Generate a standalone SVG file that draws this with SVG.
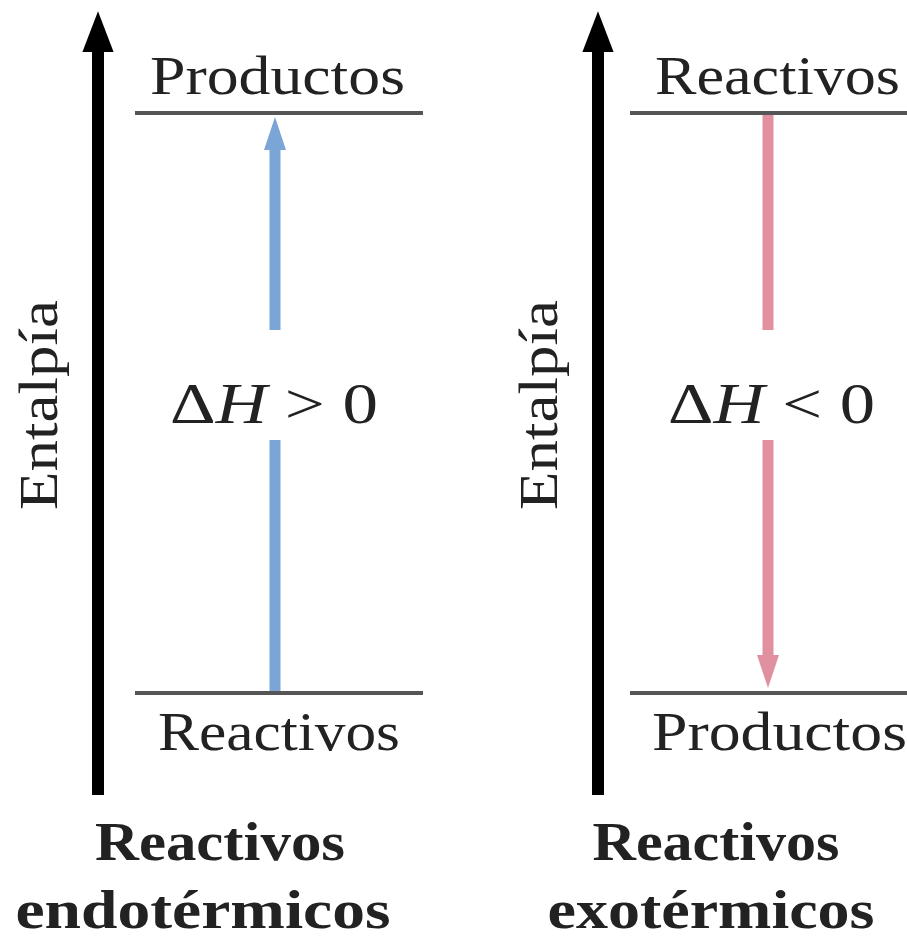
<svg xmlns="http://www.w3.org/2000/svg" width="907" height="940" viewBox="0 0 907 940">
<style>
.t{font-family:"Liberation Serif","Times New Roman",serif;fill:#222;}
.lvl{stroke:#555;stroke-width:4;}
.axis{stroke:#000;stroke-width:12;}
.bl{stroke:#7aa5d6;stroke-width:11;}
.rd{stroke:#e0909f;stroke-width:11;}
</style>
<defs>
<marker id="ah" markerWidth="4" markerHeight="4" refX="1" refY="2" orient="auto" markerUnits="strokeWidth"><path d="M0,0.7 L3.4,2 L0,3.3 Z" fill="#000"/></marker>
<marker id="ab" markerWidth="3" markerHeight="3" refX="1" refY="1.5" orient="auto" markerUnits="strokeWidth"><path d="M0,0.5 L3,1.5 L0,2.5 Z" fill="#7aa5d6"/></marker>
<marker id="ar" markerWidth="3" markerHeight="3" refX="1" refY="1.5" orient="auto" markerUnits="strokeWidth"><path d="M0,0.5 L3,1.5 L0,2.5 Z" fill="#e0909f"/></marker>
</defs>
<g id="connectors">
<line class="axis" x1="98" y1="795" x2="98" y2="40" marker-end="url(#ah)"/>
<line class="axis" x1="598" y1="795" x2="598" y2="40" marker-end="url(#ah)"/>
<line class="bl" x1="275" y1="693" x2="275" y2="440"/>
<line class="bl" x1="275" y1="330" x2="275" y2="139" marker-end="url(#ab)"/>
<line class="rd" x1="768" y1="115" x2="768" y2="330"/>
<line class="rd" x1="768" y1="440" x2="768" y2="666" marker-end="url(#ar)"/>
</g>
<g id="endo-productos">
<line class="lvl" x1="135" y1="113" x2="423" y2="113"/>
<text class="t" x="150" y="94" font-size="54" textLength="255" lengthAdjust="spacingAndGlyphs">Productos</text>
</g>
<g id="endo-reactivos">
<line class="lvl" x1="135" y1="693" x2="423" y2="693"/>
<text class="t" x="158" y="750" font-size="54" textLength="242" lengthAdjust="spacingAndGlyphs">Reactivos</text>
</g>
<g id="endo-dh">
<text class="t" x="170" y="423" font-size="58" textLength="208" lengthAdjust="spacingAndGlyphs">Δ<tspan font-style="italic">H</tspan> &gt; 0</text>
</g>
<g id="exo-reactivos">
<line class="lvl" x1="630" y1="113" x2="907" y2="113"/>
<text class="t" x="655" y="94" font-size="54" textLength="245" lengthAdjust="spacingAndGlyphs">Reactivos</text>
</g>
<g id="exo-productos">
<line class="lvl" x1="630" y1="693" x2="907" y2="693"/>
<text class="t" x="652" y="750" font-size="54" textLength="255" lengthAdjust="spacingAndGlyphs">Productos</text>
</g>
<g id="exo-dh">
<text class="t" x="668" y="423" font-size="58" textLength="207" lengthAdjust="spacingAndGlyphs">Δ<tspan font-style="italic">H</tspan> &lt; 0</text>
</g>
<g id="axis-labels">
<text class="t" transform="translate(57,405) rotate(-90)" text-anchor="middle" font-size="54" textLength="210" lengthAdjust="spacingAndGlyphs">Entalpía</text>
<text class="t" transform="translate(557,405) rotate(-90)" text-anchor="middle" font-size="54" textLength="210" lengthAdjust="spacingAndGlyphs">Entalpía</text>
</g>
<g id="captions">
<text class="t" x="220" y="860" font-size="54" font-weight="bold" text-anchor="middle" textLength="250" lengthAdjust="spacingAndGlyphs">Reactivos</text>
<text class="t" x="203" y="928" font-size="54" font-weight="bold" text-anchor="middle" textLength="375" lengthAdjust="spacingAndGlyphs">endotérmicos</text>
<text class="t" x="716" y="860" font-size="54" font-weight="bold" text-anchor="middle" textLength="247" lengthAdjust="spacingAndGlyphs">Reactivos</text>
<text class="t" x="711" y="928" font-size="54" font-weight="bold" text-anchor="middle" textLength="327" lengthAdjust="spacingAndGlyphs">exotérmicos</text>
</g>
</svg>
